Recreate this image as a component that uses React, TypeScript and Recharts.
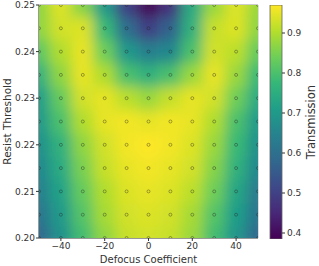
import { ScatterChart, Scatter, XAxis, YAxis, ReferenceLine, BarChart, Bar, Label } from 'recharts';

const defocus = [-50, -40, -30, -20, -10, 0, 10, 20, 30, 40, 50];
const thresholds = [0.2, 0.205, 0.21, 0.215, 0.22, 0.225, 0.23, 0.235, 0.24, 0.245, 0.25];
// one row per threshold (0.20 -> 0.25), one column per defocus value
const transmission = [
  [0.58, 0.68, 0.79, 0.87, 0.92, 0.93, 0.92, 0.88, 0.79, 0.69, 0.58],
  [0.61, 0.7, 0.81, 0.89, 0.93, 0.94, 0.93, 0.89, 0.81, 0.71, 0.61],
  [0.64, 0.72, 0.83, 0.9, 0.94, 0.95, 0.94, 0.91, 0.84, 0.73, 0.63],
  [0.66, 0.74, 0.85, 0.92, 0.95, 0.96, 0.95, 0.93, 0.86, 0.76, 0.66],
  [0.68, 0.76, 0.87, 0.93, 0.96, 0.97, 0.96, 0.94, 0.88, 0.78, 0.68],
  [0.7, 0.8, 0.9, 0.95, 0.96, 0.95, 0.96, 0.95, 0.9, 0.8, 0.7],
  [0.71, 0.83, 0.93, 0.95, 0.91, 0.88, 0.92, 0.95, 0.93, 0.84, 0.74],
  [0.76, 0.87, 0.95, 0.9, 0.8, 0.76, 0.8, 0.88, 0.95, 0.88, 0.78],
  [0.82, 0.9, 0.95, 0.84, 0.7, 0.64, 0.66, 0.8, 0.93, 0.91, 0.83],
  [0.87, 0.93, 0.94, 0.78, 0.6, 0.5, 0.57, 0.76, 0.92, 0.94, 0.87],
  [0.87, 0.94, 0.86, 0.7, 0.5, 0.39, 0.47, 0.74, 0.88, 0.94, 0.88],
];
const xTicks = [-40, -20, 0, 20, 40];
const yTicks = [0.2, 0.21, 0.22, 0.23, 0.24, 0.25];
const cbTicks = [0.4, 0.5, 0.6, 0.7, 0.8, 0.9];
const cbMin = 0.385;
const cbMax = 0.97;

const cells = thresholds.flatMap((y, i) => defocus.map((x, j) => ({ x, y, t: transmission[i][j] })));

// layout
const W = 270;
const H = 266;
const M = { top: 5, right: 12, left: 0, bottom: 0 };
const Y_W = 39;
const X_H = 28;
const PLOT_W = W - M.left - M.right - Y_W;
const PLOT_H = H - M.top - M.bottom - X_H;
const CELL_W = PLOT_W / (defocus.length - 1);
const CELL_H = PLOT_H / (thresholds.length - 1);

const FONT = '"DejaVu Sans", sans-serif';
const INK = '#333';

const viridisStops = [
  '#440154', '#482878', '#3e4989', '#31688e', '#26828e',
  '#1f9e89', '#35b779', '#6ece58', '#b5de2b', '#fde725',
];

function hex(c: string) {
  return [1, 3, 5].map((k) => parseInt(c.slice(k, k + 2), 16));
}

function viridis(v: number) {
  const t = Math.max(0, Math.min(1, (v - cbMin) / (cbMax - cbMin)));
  const p = t * (viridisStops.length - 1);
  const i = Math.min(Math.floor(p), viridisStops.length - 2);
  const f = p - i;
  const a = hex(viridisStops[i]);
  const b = hex(viridisStops[i + 1]);
  const c = a.map((ch, k) => Math.round(ch + (b[k] - ch) * f));
  return `rgb(${c[0]},${c[1]},${c[2]})`;
}

const HeatCell = (props: any) => {
  const { cx, cy, payload } = props;
  return (
    <rect
      x={cx - CELL_W / 2 - 0.3}
      y={cy - CELL_H / 2 - 0.3}
      width={CELL_W + 0.6}
      height={CELL_H + 0.6}
      fill={viridis(payload.t)}
    />
  );
};

const Marker = (props: any) => {
  const { cx, cy } = props;
  return <circle cx={cx} cy={cy} r={1.5} fill="none" stroke="#222" strokeOpacity={0.55} strokeWidth={0.7} />;
};

const fmtX = (v: number) => String(v).replace('-', '\u2212');

export default function App() {
  return (
    <div style={{ position: 'absolute', left: 0, top: 0, width: 319, height: 266, background: '#fff', fontFamily: FONT }}>
      <style>{`.heat { filter: url(#smooth); }`}</style>
      <div style={{ position: 'absolute', left: 0, top: 0 }}>
        <ScatterChart width={W} height={H} margin={M}>
          <defs>
            <filter id="smooth" x="-10%" y="-10%" width="120%" height="120%">
              <feGaussianBlur stdDeviation={6.5} />
            </filter>
          </defs>
          <XAxis
            type="number"
            dataKey="x"
            domain={[-50, 50]}
            ticks={xTicks}
            allowDataOverflow
            height={X_H}
            tickFormatter={fmtX}
            tick={{ fontSize: 9, fill: INK, fontFamily: FONT }}
            tickSize={3}
            tickMargin={2}
            stroke={INK}
          >
            <Label value="Defocus Coefficient" position="insideBottom" offset={3} style={{ fontSize: 10, fill: INK, fontFamily: FONT }} />
          </XAxis>
          <YAxis
            type="number"
            dataKey="y"
            domain={[0.2, 0.25]}
            ticks={yTicks}
            allowDataOverflow
            width={Y_W}
            tickFormatter={(v: number) => v.toFixed(2)}
            tick={{ fontSize: 9, fill: INK, fontFamily: FONT }}
            tickSize={3}
            tickMargin={1}
            stroke={INK}
          >
            <Label
              value="Resist Threshold"
              angle={-90}
              position="insideLeft"
              offset={7}
              style={{ fontSize: 10.5, fill: INK, fontFamily: FONT, textAnchor: 'middle' }}
            />
          </YAxis>
          <Scatter className="heat" data={cells} shape={HeatCell} isAnimationActive={false} />
          <Scatter data={cells} shape={Marker} isAnimationActive={false} />
          <ReferenceLine y={0.25} stroke="#999" strokeWidth={1} />
          <ReferenceLine x={50} stroke="#bbb" strokeWidth={1} />
        </ScatterChart>
      </div>
      <div style={{ position: 'absolute', left: 262, top: 0 }}>
        <BarChart
          width={57}
          height={H}
          data={[{ k: 'cb', range: [cbMin, cbMax] }]}
          margin={{ top: 5, right: 0, bottom: 27, left: 8 }}
          barCategoryGap={0}
        >
          <defs>
            <linearGradient id="viridisBar" x1="0" y1="1" x2="0" y2="0">
              {viridisStops.map((c, i) => (
                <stop key={c} offset={`${(i / (viridisStops.length - 1)) * 100}%`} stopColor={c} />
              ))}
            </linearGradient>
          </defs>
          <XAxis dataKey="k" hide />
          <YAxis
            orientation="right"
            type="number"
            domain={[cbMin, cbMax]}
            ticks={cbTicks}
            allowDataOverflow
            width={37}
            tickFormatter={(v: number) => v.toFixed(1)}
            tick={{ fontSize: 9, fill: INK, fontFamily: FONT }}
            tickSize={3}
            tickMargin={2}
            axisLine={false}
            stroke={INK}
          >
            <Label
              value="Transmission"
              angle={-90}
              position="insideRight"
              offset={8}
              style={{ fontSize: 11.5, fill: INK, fontFamily: FONT, textAnchor: 'middle' }}
            />
          </YAxis>
          <Bar dataKey="range" fill="url(#viridisBar)" stroke="#666" strokeWidth={0.8} isAnimationActive={false} />
        </BarChart>
      </div>
    </div>
  );
}
